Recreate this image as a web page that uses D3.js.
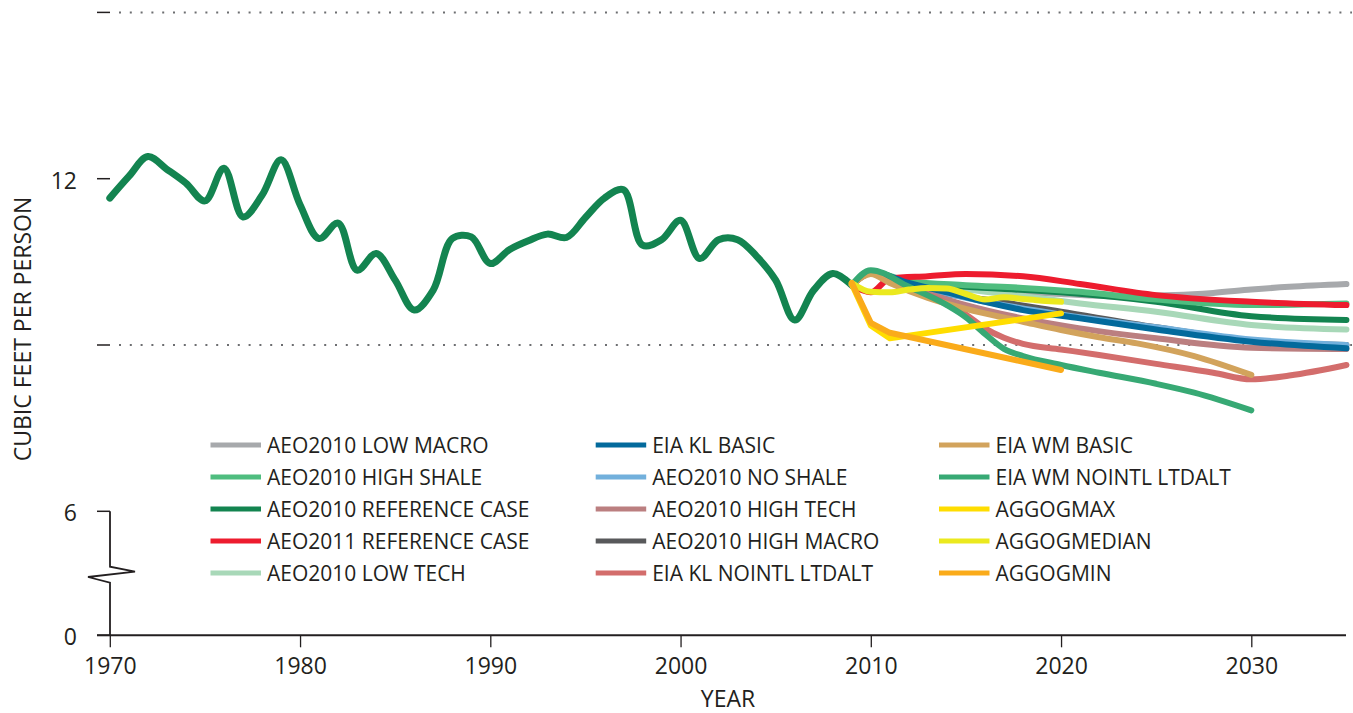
<!DOCTYPE html>
<html>
<head>
<meta charset="utf-8">
<script src="https://cdn.jsdelivr.net/npm/d3@7"></script>
<style>
  html, body { margin: 0; padding: 0; background: #ffffff; }
  svg { display: block; }
  text { font-family: "Open Sans", "Liberation Sans", sans-serif; fill: #231f20; }
</style>
</head>
<body>
<svg id="chart" width="1353" height="713"></svg>
<script>
// ---------------- DATA ----------------
const historyYears  = [1970,1971,1972,1973,1974,1975,1976,1977,1978,1979,1980,1981,1982,1983,1984,1985,1986,1987,1988,1989,1990,1991,1992,1993,1994,1995,1996,1997,1998,1999,2000,2001,2002,2003,2004,2005,2006,2007,2008,2009];
const historyValues = [11.65,12.04,12.4,12.17,11.92,11.6,12.19,11.31,11.7,12.34,11.53,10.92,11.2,10.35,10.65,10.17,9.63,9.99,10.92,10.95,10.47,10.72,10.88,11.0,10.94,11.3,11.65,11.8,10.8,10.9,11.25,10.56,10.9,10.9,10.6,10.17,9.45,9.99,10.29,10.08];

const lowMacroYears   = [2009,2010,2012,2015,2020,2023,2026,2028,2030,2032,2035];
const lowMacroValues  = [10.08,10.3,10.12,10.02,9.92,9.88,9.9,9.94,10.0,10.05,10.1];
const highMacroYears  = [2009,2010,2012,2014,2016,2020,2025,2030,2035];
const highMacroValues = [10.08,10.3,10.05,9.92,9.82,9.6,9.32,9.08,9.0];
const noShaleYears    = [2009,2010,2012,2015,2020,2025,2030,2035];
const noShaleValues   = [10.08,10.3,10.1,9.85,9.55,9.32,9.1,9.0];
const highTechYears   = [2009,2010,2012,2015,2018,2021,2025,2030,2035];
const highTechValues  = [10.08,10.3,10.05,9.72,9.48,9.3,9.12,8.95,8.93];
const lowTechYears    = [2009,2010,2012,2015,2018,2021,2025,2030,2035];
const lowTechValues   = [10.08,10.3,10.1,10.0,9.88,9.75,9.6,9.36,9.28];
const ref2010Years    = [2009,2010,2012,2015,2020,2025,2030,2035];
const ref2010Values   = [10.08,10.3,10.12,10.05,9.95,9.78,9.52,9.45];
const highShaleYears  = [2009,2010,2012,2015,2018,2021,2025,2030,2035];
const highShaleValues = [10.08,10.32,10.15,10.08,10.03,9.96,9.82,9.72,9.75];
const ref2011Years    = [2009,2010,2011,2013,2015,2018,2021,2025,2030,2035];
const ref2011Values   = [10.08,9.95,10.2,10.24,10.28,10.24,10.1,9.9,9.78,9.72];
const klNointlYears   = [2009,2010,2012,2014,2015,2016,2017,2018,2020,2022,2025,2028,2030,2032,2035];
const klNointlValues  = [10.08,10.3,10.03,9.75,9.55,9.3,9.13,9.02,8.92,8.82,8.66,8.5,8.38,8.45,8.64];
const klBasicYears    = [2009,2010,2012,2014,2016,2018,2021,2025,2030,2035];
const klBasicValues   = [10.08,10.32,10.12,9.95,9.78,9.63,9.48,9.28,9.06,8.94];
const wmBasicYears    = [2009,2010,2011,2013,2015,2018,2020,2022,2024,2027,2030];
const wmBasicValues   = [10.08,10.28,10.12,9.85,9.65,9.42,9.27,9.14,9.03,8.8,8.46];
const wmNointlYears   = [2009,2010,2012,2014,2015,2016,2017,2018,2020,2022,2025,2027,2030];
const wmNointlValues  = [10.08,10.35,10.05,9.72,9.5,9.2,8.93,8.8,8.64,8.5,8.3,8.14,7.82];
const aggMaxYears     = [2009,2010,2011,2020];
const aggMaxValues    = [10.1,9.35,9.12,9.57];
const aggMedianYears  = [2009,2010,2011,2012,2013,2014,2015,2016,2017,2018,2019,2020];
const aggMedianValues = [10.12,9.96,9.95,10.0,10.03,10.02,9.92,9.82,9.86,9.83,9.8,9.78];
const aggMinYears     = [2009,2010,2011,2020];
const aggMinValues    = [10.12,9.4,9.22,8.55];

const xTicks = [1970,1980,1990,2000,2010,2020,2030];
const yTickLabels = [0,6,12];
const yDotted = [9,15];
const yDashTicks = [0,6,9,12,15];

// legend order (column-major)
const legendNames = [
  "AEO2010 LOW MACRO","AEO2010 HIGH SHALE","AEO2010 REFERENCE CASE","AEO2011 REFERENCE CASE","AEO2010 LOW TECH",
  "EIA KL BASIC","AEO2010 NO SHALE","AEO2010 HIGH TECH","AEO2010 HIGH MACRO","EIA KL NOINTL LTDALT",
  "EIA WM BASIC","EIA WM NOINTL LTDALT","AGGOGMAX","AGGOGMEDIAN","AGGOGMIN"
];

// ---------------- STYLE ----------------
const colors = {
  "AEO2010 LOW MACRO": "#a7a9ac",
  "AEO2010 HIGH SHALE": "#4fbd7f",
  "AEO2010 REFERENCE CASE": "#138450",
  "AEO2011 REFERENCE CASE": "#ed1c2e",
  "AEO2010 LOW TECH": "#a8d8b8",
  "EIA KL BASIC": "#036a9c",
  "AEO2010 NO SHALE": "#72b0dc",
  "AEO2010 HIGH TECH": "#bb7f80",
  "AEO2010 HIGH MACRO": "#58595b",
  "EIA KL NOINTL LTDALT": "#d36d6c",
  "EIA WM BASIC": "#d2a35c",
  "EIA WM NOINTL LTDALT": "#37a974",
  "AGGOGMAX": "#ffdd00",
  "AGGOGMEDIAN": "#ebe91e",
  "AGGOGMIN": "#faab1a"
};

// series in drawing order (bottom to top)
const series = [
  {name: "AEO2010 LOW MACRO", years: lowMacroYears, values: lowMacroValues},
  {name: "AEO2010 HIGH MACRO", years: highMacroYears, values: highMacroValues},
  {name: "AEO2010 NO SHALE", years: noShaleYears, values: noShaleValues},
  {name: "AEO2010 HIGH TECH", years: highTechYears, values: highTechValues},
  {name: "AEO2010 LOW TECH", years: lowTechYears, values: lowTechValues},
  {name: "AEO2010 REFERENCE CASE", years: ref2010Years, values: ref2010Values},
  {name: "AEO2010 HIGH SHALE", years: highShaleYears, values: highShaleValues},
  {name: "AEO2011 REFERENCE CASE", years: ref2011Years, values: ref2011Values},
  {name: "EIA KL NOINTL LTDALT", years: klNointlYears, values: klNointlValues},
  {name: "EIA KL BASIC", years: klBasicYears, values: klBasicValues},
  {name: "EIA WM BASIC", years: wmBasicYears, values: wmBasicValues},
  {name: "EIA WM NOINTL LTDALT", years: wmNointlYears, values: wmNointlValues},
  {name: "AGGOGMAX", years: aggMaxYears, values: aggMaxValues, linear: true},
  {name: "AGGOGMEDIAN", years: aggMedianYears, values: aggMedianValues},
  {name: "AGGOGMIN", years: aggMinYears, values: aggMinValues, linear: true}
];

const ink = "#231f20";
const svg = d3.select("#chart");

// scales: broken y axis (0 sits below a break, 6..15 linear)
const x = d3.scaleLinear().domain([1970, 2030]).range([109.8, 1251.3]);
const y = d3.scaleLinear().domain([0, 6, 12]).range([635.3, 511.3, 178.7]);
const yTop = d3.scaleLinear().domain([6, 12]).range([511.3, 178.7]);
const yv = v => v >= 6 ? yTop(v) : y(v);

// dotted gridlines
svg.append("g").selectAll("line").data(yDotted).join("line")
  .attr("x1", 119).attr("x2", 1352)
  .attr("y1", d => yv(d)).attr("y2", d => yv(d))
  .attr("stroke", "#6d6e71").attr("stroke-width", 2)
  .attr("stroke-dasharray", "2,8.8");

// y dash ticks
svg.append("g").selectAll("line").data(yDashTicks).join("line")
  .attr("x1", 97).attr("x2", 110)
  .attr("y1", d => yv(d)).attr("y2", d => yv(d))
  .attr("stroke", ink).attr("stroke-width", 1.5);

// y axis with break zigzag (from 6 down to 0)
const y6 = yv(6), y0 = y(0);
const axisPath = d3.path();
axisPath.moveTo(110, y6);
axisPath.lineTo(110, 566.7);
axisPath.lineTo(135, 571.7);
axisPath.lineTo(88, 577);
axisPath.lineTo(110, 582.7);
axisPath.lineTo(110, y0);
svg.append("path").attr("d", axisPath.toString())
  .attr("fill", "none").attr("stroke", ink).attr("stroke-width", 1.8)
  .attr("stroke-linejoin", "miter");

// y labels
svg.append("g").selectAll("text").data(yTickLabels).join("text")
  .attr("x", 77).attr("y", d => yv(d) + 10)
  .attr("text-anchor", "end").attr("font-size", 23)
  .text(d => d);

// x axis
const xAxis = d3.axisBottom(x).tickValues(xTicks).tickFormat(d3.format("d")).tickSize(12).tickPadding(10);
const gx = svg.append("g").attr("transform", `translate(0,${y0})`).call(xAxis);
gx.select(".domain").remove();
gx.selectAll(".tick line").attr("stroke", ink).attr("stroke-width", 1.3);
gx.selectAll(".tick text").attr("font-size", 23).attr("fill", ink)
  .attr("font-family", "\"Open Sans\", sans-serif");
svg.append("line").attr("x1", 97).attr("x2", 1346).attr("y1", y0).attr("y2", y0)
  .attr("stroke", ink).attr("stroke-width", 2);

// axis titles
svg.append("text").attr("x", 728).attr("y", 707).attr("text-anchor", "middle")
  .attr("font-size", 23).text("YEAR");
svg.append("text").attr("transform", "translate(31,329) rotate(-90)")
  .attr("text-anchor", "middle").attr("font-size", 23).text("CUBIC FEET PER PERSON");

// lines
const history = d3.line().x(d => x(d[0])).y(d => yv(d[1])).curve(d3.curveCatmullRom.alpha(0.5));
const smooth = d3.line().x(d => x(d[0])).y(d => yv(d[1])).curve(d3.curveMonotoneX);
const straight = d3.line().x(d => x(d[0])).y(d => yv(d[1])).curve(d3.curveLinear);

svg.append("path")
  .attr("d", history(d3.zip(historyYears, historyValues)))
  .attr("fill", "none").attr("stroke", colors["AEO2010 REFERENCE CASE"])
  .attr("stroke-width", 7).attr("stroke-linecap", "round").attr("stroke-linejoin", "round");

svg.append("g").selectAll("path").data(series).join("path")
  .attr("d", s => (s.linear ? straight : smooth)(d3.zip(s.years, s.values)))
  .attr("fill", "none").attr("stroke", s => colors[s.name])
  .attr("stroke-width", 6).attr("stroke-linecap", "round").attr("stroke-linejoin", "round");

// legend
const colX = [210.5, 595.7, 939];
const rowY0 = 445, rowStep = 32;
const lg = svg.append("g").selectAll("g").data(legendNames).join("g")
  .attr("transform", (d, i) => `translate(${colX[Math.floor(i / 5)]},${rowY0 + (i % 5) * rowStep})`);
lg.append("line").attr("x1", 0).attr("x2", 50.5).attr("y1", 0).attr("y2", 0)
  .attr("stroke", d => colors[d]).attr("stroke-width", 5);
lg.append("text").attr("x", 56.5).attr("y", 7.5).attr("font-size", 21).text(d => d);
</script>
</body>
</html>
